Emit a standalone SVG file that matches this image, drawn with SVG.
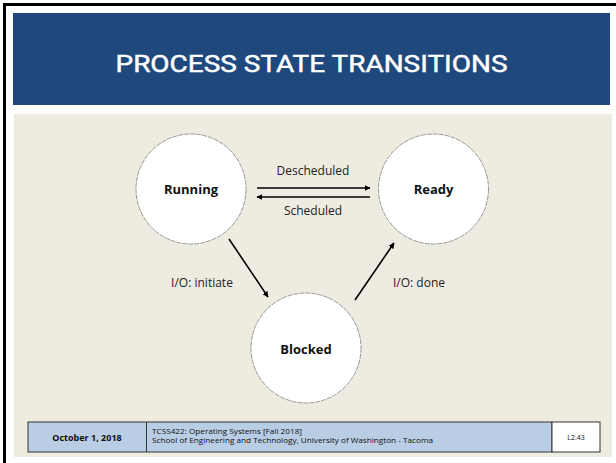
<svg xmlns="http://www.w3.org/2000/svg" width="616" height="463" viewBox="0 0 616 463">
  <style>
    .state { fill: #ffffff; stroke: #808080; stroke-width: 0.8; stroke-dasharray: 5 1; }
    .state-label { font-family: "Open Sans", "Noto Sans", "DejaVu Sans", sans-serif; font-size: 13px; font-weight: bold; fill: #111111; text-anchor: middle; }
    .edge { stroke: #000000; stroke-width: 1.6; fill: none; marker-end: url(#arrow); }
    .edge-label { font-family: "Open Sans", "Noto Sans", "DejaVu Sans", sans-serif; font-size: 12px; fill: #222222; text-anchor: middle; }
    .foot { font-family: "Open Sans", "Noto Sans", "DejaVu Sans", sans-serif; fill: #111111; }
  </style>
  <defs>
    <marker id="arrow" viewBox="0 0 10 10" refX="9" refY="5" markerWidth="6" markerHeight="6" markerUnits="userSpaceOnUse" orient="auto">
      <path d="M0,0 L10,5 L0,10 Z" fill="#000000"/>
    </marker>
  </defs>

  <!-- slide background and frame -->
  <rect x="0" y="0" width="616" height="463" fill="#ffffff"/>
  <path d="M4.5,463 V4.5 H616" fill="none" stroke="#000000" stroke-width="3"/>

  <!-- title bar -->
  <g id="title">
    <rect x="13" y="13" width="597" height="92" fill="#1f497d"/>
    <text x="311.5" y="72" font-family="Roboto, 'Liberation Sans', sans-serif" font-size="24" font-weight="normal" fill="#ffffff" stroke="#ffffff" stroke-width="0.45" text-anchor="middle" textLength="392" lengthAdjust="spacingAndGlyphs">PROCESS STATE TRANSITIONS</text>
  </g>

  <!-- content area -->
  <rect x="14" y="114" width="598" height="343" fill="#eeebe1"/>

  <!-- transitions -->
  <g id="connectors">
    <line class="edge" x1="257" y1="188" x2="370" y2="188"/>
    <line class="edge" x1="370" y1="197" x2="257" y2="197"/>
    <line class="edge" x1="229" y1="239" x2="268" y2="297"/>
    <line class="edge" x1="355" y1="300" x2="394" y2="243"/>
    <text class="edge-label" x="313" y="175">Descheduled</text>
    <text class="edge-label" x="313" y="215">Scheduled</text>
    <text class="edge-label" x="202" y="287">I/O: initiate</text>
    <text class="edge-label" x="419" y="287">I/O: done</text>
  </g>

  <!-- states -->
  <g id="running">
    <circle class="state" cx="191" cy="189" r="55"/>
    <text class="state-label" x="191" y="194">Running</text>
  </g>
  <g id="ready">
    <circle class="state" cx="433.5" cy="189" r="55"/>
    <text class="state-label" x="433.5" y="194">Ready</text>
  </g>
  <g id="blocked">
    <circle class="state" cx="306" cy="348" r="55"/>
    <text class="state-label" x="306" y="354">Blocked</text>
  </g>

  <!-- footer -->
  <g id="footer">
    <rect x="28" y="422" width="524" height="30" fill="#b9cde5" stroke="#333333" stroke-width="1"/>
    <rect x="552" y="422" width="48" height="30" fill="#ffffff" stroke="#333333" stroke-width="1"/>
    <line x1="146.5" y1="422" x2="146.5" y2="452" stroke="#333333" stroke-width="1"/>
    <text class="foot" x="87" y="441" font-size="9" font-weight="bold" text-anchor="middle">October 1, 2018</text>
    <text class="foot" x="152" y="434" font-size="7.8" textLength="150" lengthAdjust="spacingAndGlyphs">TCSS422: Operating Systems [Fall 2018]</text>
    <text class="foot" x="152" y="443" font-size="7.8" textLength="281" lengthAdjust="spacingAndGlyphs">School of Engineering and Technology, University of Washington - Tacoma</text>
    <text class="foot" x="576" y="440" font-size="7" text-anchor="middle">L2.43</text>
  </g>
</svg>
